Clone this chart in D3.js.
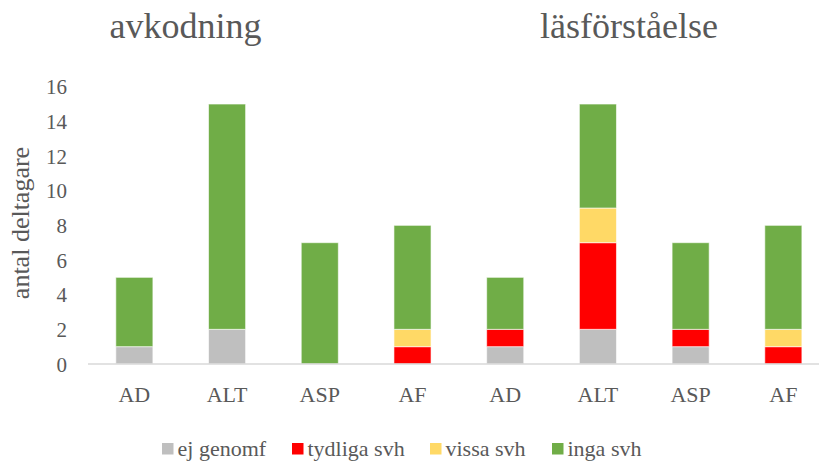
<!DOCTYPE html>
<html>
<head>
<meta charset="utf-8">
<script src="https://cdn.jsdelivr.net/npm/d3@7"></script>
<style>
  html, body { margin: 0; padding: 0; background: #fff; }
  svg { display: block; }
  svg text { font-family: "Liberation Serif", "Times New Roman", serif; }
</style>
</head>
<body>
<div id="hook-chart"></div>
<script>
'use strict';

// categories (two test groups, four groups of participants each)
var categories = ['AD', 'ALT', 'ASP', 'AF', 'AD', 'ALT', 'ASP', 'AF'];
var groupTitles = ['avkodning', 'läsförståelse'];
var seriesNames = ['ej genomf', 'tydliga svh', 'vissa svh', 'inga svh'];
var seriesColors = ['#bfbfbf', '#ff0000', '#ffd966', '#70ad47'];

// series values, one per category
var ejGenomf   = [1, 2, 0, 0, 1, 2, 1, 0];
var tydligaSvh = [0, 0, 0, 1, 1, 5, 1, 1];
var vissaSvh   = [0, 0, 0, 1, 0, 2, 0, 1];
var ingaSvh    = [4, 13, 7, 6, 3, 6, 5, 6];

var yTicks = [0, 2, 4, 6, 8, 10, 12, 14, 16];

(function() {

var options = {
  width: 819,
  height: 462,
  left: 88,
  right: 829.7,
  top: 86.7,
  bottom: 364,
  textColor: '#595959',
  font: '"Liberation Serif", "Times New Roman", serif'
};

var rows = categories.map(function(c, i) {
  return {
    idx: i,
    cat: c,
    'ej genomf': ejGenomf[i],
    'tydliga svh': tydligaSvh[i],
    'vissa svh': vissaSvh[i],
    'inga svh': ingaSvh[i]
  };
});

var stacked = d3.stack().keys(seriesNames)(rows);

var svg = d3.select('#hook-chart')
  .append('svg')
  .attr('width', options.width)
  .attr('height', options.height);

var x = d3.scaleBand()
  .domain(d3.range(categories.length))
  .range([options.left, options.right])
  .paddingInner(0.6)
  .paddingOuter(0.3);

var y = d3.scaleLinear()
  .domain([0, 16])
  .range([options.bottom, options.top]);

// bars
svg.append('g')
  .selectAll('g')
  .data(stacked)
  .join('g')
  .attr('fill', function(d, i) { return seriesColors[i]; })
  .selectAll('rect')
  .data(function(d) { return d.filter(function(s) { return s[1] - s[0] > 0; }); })
  .join('rect')
  .attr('x', function(d) { return x(d.data.idx); })
  .attr('y', function(d) { return y(d[1]); })
  .attr('width', x.bandwidth())
  .attr('height', function(d) { return y(d[0]) - y(d[1]); })
  .style('stroke', '#ffffff')
  .style('stroke-opacity', 0.6)
  .style('stroke-width', 1);

// baseline
svg.append('line')
  .attr('x1', options.left)
  .attr('x2', options.width)
  .attr('y1', y(0))
  .attr('y2', y(0))
  .style('stroke', '#d9d9d9')
  .style('stroke-width', 1.5);

// y axis
var yAxis = svg.append('g')
  .attr('transform', 'translate(67,0)')
  .call(d3.axisLeft(y).tickValues(yTicks).tickSize(0).tickPadding(0));
yAxis.attr('font-family', null).attr('font-size', null);
yAxis.select('.domain').remove();
yAxis.selectAll('text')
  .style('font-family', options.font)
  .style('font-size', '21px')
  .attr('fill', options.textColor)
  .attr('dy', '0.34em');

// x axis
var xAxis = svg.append('g')
  .attr('transform', 'translate(0,' + y(0) + ')')
  .call(d3.axisBottom(x).tickFormat(function(i) { return categories[i]; }).tickSize(0).tickPadding(0));
xAxis.attr('font-family', null).attr('font-size', null);
xAxis.select('.domain').remove();
xAxis.selectAll('text')
  .style('font-family', options.font)
  .style('font-size', '22px')
  .attr('fill', options.textColor)
  .attr('dy', null)
  .attr('y', 38);

// y label
svg.append('text')
  .attr('transform', 'translate(29,223) rotate(-90)')
  .attr('text-anchor', 'middle')
  .style('font-family', options.font)
  .style('font-size', '26px')
  .attr('fill', options.textColor)
  .text('antal deltagare');

// group titles
svg.selectAll('.title')
  .data(groupTitles)
  .join('text')
  .attr('class', 'title')
  .attr('x', function(d, i) { return i === 0 ? 185.5 : 629; })
  .attr('y', 38)
  .attr('text-anchor', 'middle')
  .style('font-family', options.font)
  .style('font-size', '36px')
  .attr('fill', options.textColor)
  .text(function(d) { return d; });

// legend
var legendX = [162, 292, 430, 552];
var legend = svg.append('g')
  .selectAll('g')
  .data(seriesNames)
  .join('g')
  .attr('transform', function(d, i) { return 'translate(' + legendX[i] + ',443)'; });

legend.append('rect')
  .attr('width', 11.5)
  .attr('height', 11.5)
  .attr('fill', function(d, i) { return seriesColors[i]; });

legend.append('text')
  .attr('x', 15.5)
  .attr('y', 13)
  .style('font-family', options.font)
  .style('font-size', '22px')
  .attr('fill', options.textColor)
  .text(function(d) { return d; });

}());
</script>
</body>
</html>
